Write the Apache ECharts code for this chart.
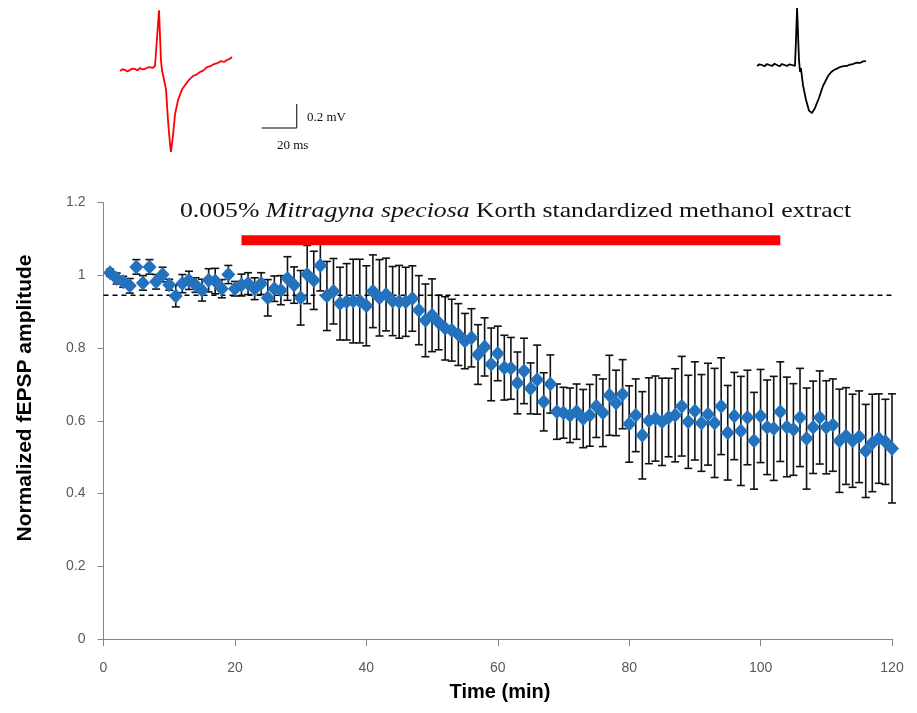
<!DOCTYPE html>
<html>
<head>
<meta charset="utf-8">
<script src="https://cdn.jsdelivr.net/npm/echarts@6/dist/echarts.min.js"></script>
<style>
  html, body { margin: 0; padding: 0; background: #fff; }
  #main { width: 917px; height: 713px; }
</style>
</head>
<body>
<div id="main"></div>
<script>
// normalized fEPSP amplitude, one point per minute (1..120)
var amp = [
  1.007,0.991,0.982,0.971,1.023,0.979,1.023,0.982,1.002,0.974,
  0.943,0.977,0.986,0.973,0.959,0.986,0.984,0.963,1.002,0.963,
  0.973,0.977,0.963,0.977,0.938,0.963,0.959,0.991,0.973,0.938,
  1.002,0.986,1.027,0.943,0.956,0.922,0.927,0.929,0.929,0.916,
  0.956,0.938,0.947,0.929,0.927,0.927,0.936,0.904,0.876,0.890,
  0.870,0.854,0.849,0.837,0.819,0.828,0.782,0.803,0.755,0.785,
  0.746,0.744,0.704,0.737,0.689,0.713,0.652,0.701,0.625,0.622,
  0.615,0.625,0.606,0.615,0.640,0.622,0.670,0.649,0.673,0.591,
  0.615,0.560,0.600,0.606,0.597,0.609,0.615,0.640,0.597,0.627,
  0.594,0.618,0.594,0.640,0.567,0.613,0.572,0.609,0.545,0.613,
  0.582,0.579,0.625,0.583,0.576,0.609,0.551,0.582,0.609,0.582,
  0.588,0.545,0.558,0.545,0.556,0.517,0.539,0.551,0.542,0.524
];
// SEM for each point
var sem = [
  0.010,0.015,0.015,0.020,0.020,0.020,0.020,0.020,0.020,0.015,
  0.030,0.025,0.025,0.020,0.030,0.032,0.035,0.025,0.025,0.020,
  0.030,0.030,0.030,0.030,0.050,0.035,0.040,0.060,0.050,0.075,
  0.080,0.080,0.070,0.095,0.090,0.100,0.105,0.115,0.115,0.110,
  0.100,0.105,0.100,0.095,0.100,0.095,0.090,0.095,0.100,0.100,
  0.075,0.087,0.085,0.085,0.076,0.080,0.082,0.080,0.100,0.075,
  0.089,0.085,0.085,0.090,0.070,0.095,0.080,0.080,0.076,0.070,
  0.075,0.076,0.080,0.085,0.086,0.093,0.110,0.090,0.095,0.105,
  0.100,0.120,0.118,0.117,0.120,0.108,0.128,0.137,0.128,0.135,
  0.133,0.140,0.150,0.133,0.130,0.120,0.150,0.130,0.133,0.128,
  0.130,0.143,0.137,0.137,0.126,0.135,0.139,0.127,0.128,0.128,
  0.127,0.142,0.133,0.128,0.126,0.128,0.134,0.123,0.117,0.150
];
var baseline = 0.945;           // dashed reference level
var treatment = [21, 103];      // extract application (min)
var treatLevel = 1.096;
var xTicks = [0, 120, 20];      // min, max, step
var yTicks = [0, 1.2, 0.2];

// sample traces: [ms, mV]
var traceBefore = [
  [0,-0.025],[1.4,-0.01],[2.9,-0.017],[4.3,-0.03],[5.7,-0.017],[7.1,-0.005],[8.6,-0.008],[10,-0.02],
  [11.4,0],[12.9,-0.012],[14.3,-0.008],[15.7,0.004],[17.1,0.008],[18.6,0.0],[20,0.017],[21.1,0.008],
  [22.3,0.48],[22.9,0.48],[23.4,0.067],[24,-0.017],[25.1,-0.033],[26.3,-0.18],[27.4,-0.43],
  [28.6,-0.64],[29.1,-0.70],[30.3,-0.56],[31.4,-0.39],[33.1,-0.27],[35.4,-0.18],[36.8,-0.15],
  [38.3,-0.12],[40,-0.09],[41.7,-0.067],[43.7,-0.055],[45.7,-0.033],[47.7,-0.02],[49.7,0.008],
  [51.7,0.015],[53.7,0.033],[55.7,0.04],[57.7,0.058],[59.4,0.05],[61.1,0.067],[62.6,0.075],[64,0.092]
];
var traceAfter = [
  [0,-0.008],[1.4,0.006],[2.9,0],[4.3,-0.01],[5.7,0.008],[7.1,0.0],[8.6,-0.008],[10,0.01],
  [11.4,0],[12.9,-0.01],[14.3,0.008],[15.7,0.0],[17.1,-0.008],[18.6,0.006],[20,0],[21.7,-0.008],
  [22.3,0.21],[22.9,0.475],[23.4,0.475],[24,0.042],[24.6,-0.058],[25.1,-0.025],[26.3,-0.17],
  [28,-0.29],[29.7,-0.38],[31.4,-0.40],[33.1,-0.36],[35.4,-0.275],[37.7,-0.175],[40.6,-0.092],
  [42.3,-0.06],[44,-0.042],[45.7,-0.03],[47.4,-0.017],[49.4,-0.01],[51.4,-0.008],[53.1,0.004],
  [54.9,0.008],[56.9,0.02],[58.9,0.017],[60.6,0.03],[62.3,0.033]
];
var scaleBar = [[81,-0.5],[101,-0.5],[101,-0.3]]; // 20 ms, 0.2 mV

var points = [], bars = [];
for (var i = 0; i < amp.length; i++) {
  points.push([i + 1, amp[i]]);
  bars.push([i + 1, amp[i] - sem[i], amp[i] + sem[i]]);
}

var chart = echarts.init(document.getElementById('main'));
var tickFont = '"Liberation Sans Narrow", "Liberation Sans", Arial, sans-serif';
var serif = '"Liberation Serif", "Times New Roman", serif';

option = {
  animation: false,
  backgroundColor: '#fff',
  grid: [
    { left: 103.5, right: 25, top: 202.5, bottom: 74 },
    { left: 120, top: 8, width: 182, height: 156 },
    { left: 757, top: 5, width: 109, height: 156 }
  ],
  xAxis: [
    {
      type: 'value', gridIndex: 0,
      min: xTicks[0], max: xTicks[1], interval: xTicks[2],
      axisLine: { lineStyle: { color: '#868686', width: 1 } },
      axisTick: { length: 7, lineStyle: { color: '#868686' } },
      axisLabel: { color: '#595959', fontSize: 14, fontFamily: tickFont, margin: 22 },
      splitLine: { show: false }
    },
    { type: 'value', gridIndex: 1, min: 0, max: 104, show: false },
    { type: 'value', gridIndex: 2, min: 0, max: 62.3, show: false }
  ],
  yAxis: [
    {
      type: 'value', gridIndex: 0,
      min: yTicks[0], max: yTicks[1], interval: yTicks[2],
      axisLine: { show: true, lineStyle: { color: '#868686', width: 1 } },
      axisTick: { show: true, length: 6, lineStyle: { color: '#868686' } },
      axisLabel: { color: '#595959', fontSize: 14, fontFamily: tickFont, margin: 18 },
      splitLine: { show: false }
    },
    { type: 'value', gridIndex: 1, min: -0.8, max: 0.5, show: false },
    { type: 'value', gridIndex: 2, min: -0.8, max: 0.5, show: false }
  ],
  graphic: [
    {
      type: 'text', x: 180, y: 211, scaleX: 1.17,
      style: {
        text: '0.005% {i|Mitragyna speciosa} Korth standardized methanol extract',
        verticalAlign: 'middle',
        font: '22px ' + serif, fill: '#111',
        rich: { i: { fontStyle: 'italic', fontSize: 22, fontFamily: serif, fill: '#111' } }
      }
    },
    {
      type: 'text', x: 25, y: 398, rotation: Math.PI / 2,
      style: {
        text: 'Normalized fEPSP amplitude', align: 'center', verticalAlign: 'middle',
        font: 'bold 21px "Liberation Sans", Arial, sans-serif', fill: '#000'
      }
    },
    {
      type: 'text', x: 500, y: 692,
      style: {
        text: 'Time (min)', align: 'center', verticalAlign: 'middle',
        font: 'bold 20px "Liberation Sans Narrow", "Liberation Sans", Arial, sans-serif', fill: '#000'
      }
    },
    {
      type: 'text', x: 307, y: 118,
      style: { text: '0.2 mV', verticalAlign: 'middle', font: '13px ' + serif, fill: '#111' }
    },
    {
      type: 'text', x: 277, y: 146,
      style: { text: '20 ms', verticalAlign: 'middle', font: '13px ' + serif, fill: '#111' }
    }
  ],
  series: [
    {
      type: 'line', xAxisIndex: 0, yAxisIndex: 0, clip: false,
      data: [[0, baseline], [124, baseline]],
      symbol: 'none', silent: true,
      lineStyle: { color: '#000', width: 1.4, type: [5, 4] }
    },
    {
      type: 'line', xAxisIndex: 0, yAxisIndex: 0,
      data: [[treatment[0], treatLevel], [treatment[1], treatLevel]],
      symbol: 'none', silent: true,
      lineStyle: { color: '#ff0000', width: 10, cap: 'butt' }
    },
    {
      type: 'custom', xAxisIndex: 0, yAxisIndex: 0,
      data: bars,
      renderItem: function (params, api) {
        var x = api.value(0);
        var lo = api.coord([x, api.value(1)]);
        var hi = api.coord([x, api.value(2)]);
        var w = 4;
        var st = { stroke: '#111', lineWidth: 1.6 };
        return {
          type: 'group',
          children: [
            { type: 'line', shape: { x1: hi[0], y1: hi[1], x2: lo[0], y2: lo[1] }, style: st },
            { type: 'line', shape: { x1: hi[0] - w, y1: hi[1], x2: hi[0] + w, y2: hi[1] }, style: st },
            { type: 'line', shape: { x1: lo[0] - w, y1: lo[1], x2: lo[0] + w, y2: lo[1] }, style: st }
          ]
        };
      },
      z: 2
    },
    {
      type: 'scatter', xAxisIndex: 0, yAxisIndex: 0,
      data: points,
      symbol: 'diamond', symbolSize: [14, 15],
      itemStyle: { color: '#2372bd', opacity: 1 },
      z: 3
    },
    {
      type: 'line', xAxisIndex: 1, yAxisIndex: 1, data: traceBefore,
      symbol: 'none', lineStyle: { color: '#ff0000', width: 1.8 }
    },
    {
      type: 'line', xAxisIndex: 1, yAxisIndex: 1, data: scaleBar,
      symbol: 'none', lineStyle: { color: '#000', width: 1 }
    },
    {
      type: 'line', xAxisIndex: 2, yAxisIndex: 2, data: traceAfter,
      symbol: 'none', lineStyle: { color: '#000', width: 1.8 }
    }
  ]
};
chart.setOption(option);
</script>
</body>
</html>
